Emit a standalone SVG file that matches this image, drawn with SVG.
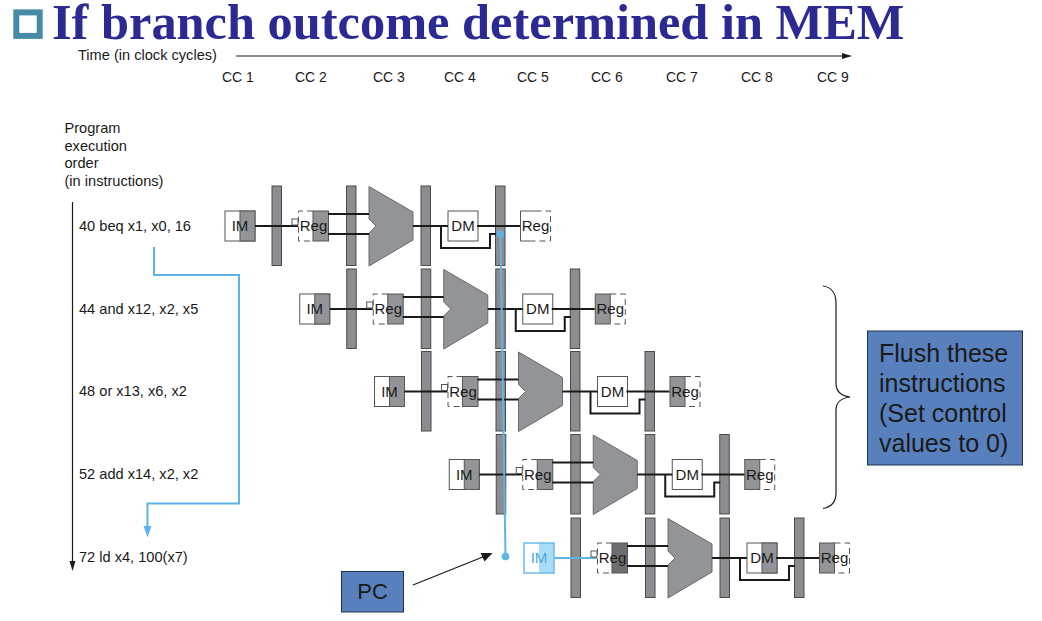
<svg xmlns="http://www.w3.org/2000/svg" width="1042" height="621" viewBox="0 0 1042 621">
<style>
text{font-family:"Liberation Sans",Arial,sans-serif;fill:#1a1a1a}
.l{font-size:14.600px}
.cc{font-size:14px}
.n{font-size:15px;text-anchor:middle}
.bar{fill:#8c8d91;stroke:#4a4a4c;stroke-width:1}
.alu{fill:#929497;stroke:#6a6a6c;stroke-width:1}
.s{stroke:#555;stroke-width:1}
.d{fill:none;stroke:#555;stroke-width:1;stroke-dasharray:6 4}
.w{fill:none;stroke:#1a1a1a;stroke-width:2}
.t{fill:none;stroke:#1a1a1a;stroke-width:1.200}
.b{fill:none;stroke:#5fb3e6;stroke-width:2}
.c{fill:#5880bd;stroke:#1f3350;stroke-width:1}
</style>
<defs>
<rect id="bar" class="bar" x="0" y="0" width="9.500" height="79.500"/>
<path id="alup" class="alu" d="M0 0L44 25.500V53.500L0 79.500V46.500L7 39.500L0 32.500Z"/>
<g id="im">
<rect class="s" fill="#fff" x="225" y="211" width="30" height="30"/>
<rect fill="#929497" class="s" x="240" y="211" width="15" height="30"/>
</g>
<g id="regA">
<path class="d" d="M313 211H298.500V241H313"/>
<rect fill="#929497" class="s" x="313" y="211" width="15.500" height="30"/>
</g>
<g id="regB">
<rect fill="#929497" class="s" x="520.500" y="211" width="15" height="30"/>
<path class="d" d="M535.500 211H550.500V241H535.500"/>
</g>
<g id="regW">
<path fill="#fff" class="s" d="M535.500 211H520.500V241H535.500"/>
<path class="d" d="M535.500 211H550.500V241H535.500"/>
</g>
<rect id="dm" class="s" fill="#fff" x="448" y="211" width="30" height="30"/>
<g id="pipe">
<use href="#bar" x="272" y="186"/>
<use href="#bar" x="346.500" y="186"/>
<use href="#alup" x="369" y="186.500"/>
<use href="#bar" x="421" y="186"/>
<use href="#bar" x="495.500" y="186"/>
</g>
<g id="wires">
<path class="w" d="M328 214H369M328 234H369M413 226H448M441 226V248H490V234H496M477 226H520"/>
</g>
<path id="front" class="w" d="M255 226H298"/>
<rect id="sq" x="292" y="219" width="6" height="6" fill="#fff" stroke="#555" stroke-width="1"/>
</defs>
<rect width="1042" height="621" fill="#fff"/>

<g id="title">
<rect x="16.300" y="12.400" width="23.400" height="23.500" fill="#fff" stroke="#468aa5" stroke-width="6"/>
<text x="52" y="39" style="font-family:'Liberation Serif','Times New Roman',serif;font-weight:700;font-size:50.400px;fill:#2b2a92">If branch outcome determined in MEM</text>
</g>

<g id="axis-labels">
<text class="l" x="78" y="60">Time (in clock cycles)</text>
<text class="cc" x="222" y="82">CC 1</text>
<text class="cc" x="295" y="82">CC 2</text>
<text class="cc" x="373" y="82">CC 3</text>
<text class="cc" x="444" y="82">CC 4</text>
<text class="cc" x="517" y="82">CC 5</text>
<text class="cc" x="591" y="82">CC 6</text>
<text class="cc" x="666" y="82">CC 7</text>
<text class="cc" x="741" y="82">CC 8</text>
<text class="cc" x="817" y="82">CC 9</text>
<text class="l" x="64.500" y="133">Program</text>
<text class="l" x="64.500" y="151">execution</text>
<text class="l" x="64.500" y="168">order</text>
<text class="l" x="64.500" y="186">(in instructions)</text>
<text class="l" x="79" y="231">40 beq x1, x0, 16</text>
<text class="l" x="79" y="314">44 and x12, x2, x5</text>
<text class="l" x="79" y="396">48 or x13, x6, x2</text>
<text class="l" x="79" y="479">52 add x14, x2, x2</text>
<text class="l" x="79" y="562">72 ld x4, 100(x7)</text>
</g>

<g id="row1">
<use href="#pipe"/><use href="#im"/><use href="#regA"/><use href="#dm"/><use href="#regW"/>
<text class="n" x="240" y="231">IM</text><text class="n" x="313.500" y="231">Reg</text><text class="n" x="463" y="231">DM</text><text class="n" x="535.500" y="231">Reg</text>
</g>
<g id="row2" transform="translate(74.750 83)">
<use href="#pipe"/><use href="#im"/><use href="#regA"/><use href="#dm"/><use href="#regB"/>
<text class="n" x="240" y="231">IM</text><text class="n" x="313.500" y="231">Reg</text><text class="n" x="463" y="231">DM</text><text class="n" x="535.500" y="231">Reg</text>
</g>
<g id="row3" transform="translate(149.500 165.500)">
<use href="#pipe"/><use href="#im"/><use href="#regA"/><use href="#dm"/><use href="#regB"/>
<text class="n" x="240" y="231">IM</text><text class="n" x="313.500" y="231">Reg</text><text class="n" x="463" y="231">DM</text><text class="n" x="535.500" y="231">Reg</text>
</g>
<g id="row4" transform="translate(224.250 248.500)">
<use href="#pipe"/><use href="#im"/><use href="#regA"/><use href="#dm"/><use href="#regB"/>
<text class="n" x="240" y="231">IM</text><text class="n" x="313.500" y="231">Reg</text><text class="n" x="463" y="231">DM</text><text class="n" x="535.500" y="231">Reg</text>
</g>
<g id="row5" transform="translate(299 332)">
<use href="#pipe"/>
<rect x="225" y="211" width="30" height="30" fill="#fff"/><rect x="240" y="211" width="15" height="30" fill="#a9dcf8"/><rect x="225" y="211" width="30" height="30" fill="none" stroke="#6bbbea" stroke-width="1.500"/>
<path class="d" d="M313 211H298.500V241H313"/><rect x="313" y="211" width="15.500" height="30" fill="#6d6e71" stroke="#555"/>
<use href="#dm"/><rect x="463" y="211" width="15" height="30" fill="#929497" class="s"/>
<use href="#regB"/>
<text class="n" x="240" y="231" style="fill:#4aa8de">IM</text><text class="n" x="313.500" y="231">Reg</text><text class="n" x="463" y="231">DM</text><text class="n" x="535.500" y="231">Reg</text>
</g>

<g id="connectors">
<path class="t" d="M236 56H844"/><path d="M852 56L842 53V59Z" fill="#1a1a1a"/>
<path class="t" d="M72.500 202V564"/><path d="M72.500 571L69.500 561H75.500Z" fill="#1a1a1a"/>
<use href="#wires"/><use href="#front"/><use href="#sq"/>
<g transform="translate(74.750 83)"><use href="#wires"/><use href="#front"/><use href="#sq"/></g>
<g transform="translate(149.500 165.500)"><use href="#wires"/><use href="#front"/><use href="#sq"/></g>
<g transform="translate(224.250 248.500)"><use href="#wires"/><use href="#front"/><use href="#sq"/></g>
<g transform="translate(299 332)"><use href="#wires"/><path class="b" d="M255 226H298"/><use href="#sq"/></g>
<path class="b" d="M154 247V275H239V503.500H147.500V530"/><path d="M147.500 537.500L143.500 526H151.500Z" fill="#5fb3e6"/>
<path class="b" d="M500.500 234L505.500 556.500"/>
<circle cx="500.500" cy="234" r="3.800" fill="#5fb3e6"/>
<circle cx="505.500" cy="556.500" r="3.800" fill="#5fb3e6"/>
<path class="t" d="M413 585L484 556.500"/><path d="M492.500 553L480.500 553L484.500 561.500Z" fill="#1a1a1a"/>
<path d="M823 286C831 287 836 293 836 303V383C836 391 841 396 850 397C841 398 836 403 836 410V493C836 502 831 507 823 508.500" fill="none" stroke="#1a1a1a" stroke-width="1.200"/>
</g>

<g id="flush">
<rect class="c" x="867.500" y="331" width="155" height="134"/>
<text x="879" y="362" style="font-size:25px">Flush these</text>
<text x="879" y="392" style="font-size:25px">instructions</text>
<text x="879" y="421.500" style="font-size:25px">(Set control</text>
<text x="879" y="451.500" style="font-size:25px">values to 0)</text>
</g>
<g id="pc">
<rect class="c" x="341.500" y="571.500" width="62" height="40.500"/>
<text x="372.500" y="599" style="font-size:22px;text-anchor:middle">PC</text>
</g>
</svg>
